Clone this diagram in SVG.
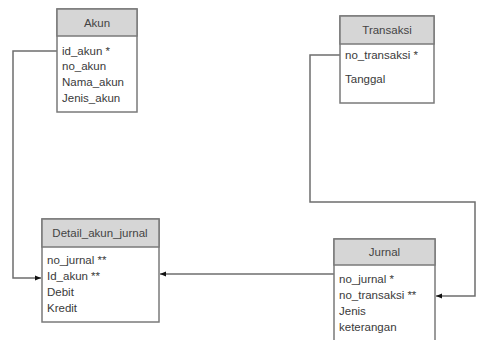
<svg xmlns="http://www.w3.org/2000/svg" width="477" height="340" viewBox="0 0 477 340">
<style>
.box{fill:#fff;stroke:#7a7a7a;stroke-width:1.5}
.hdr{fill:#d6d6d6;stroke:#7a7a7a;stroke-width:1.5}
.t{font-family:"Liberation Sans",Arial,sans-serif;font-size:11.5px;fill:#3a3a3a}
.h{font-family:"Liberation Sans",Arial,sans-serif;font-size:11.5px;fill:#444;text-anchor:middle}
.c{fill:none;stroke:#6e6e6e;stroke-width:1.5}
</style>
<defs>
<marker id="arr" viewBox="0 0 10 10" refX="10" refY="5" markerWidth="6" markerHeight="6" orient="auto" markerUnits="userSpaceOnUse">
<path d="M0,1 L10,5 L0,9 Z" fill="#111"/>
</marker>
</defs>
<rect width="477" height="340" fill="#fff"/>
<g id="connectors">
<polyline class="c" points="57,51 13,51 13,278 41,278" marker-end="url(#arr)"/>
<polyline class="c" points="334,274 160,274" marker-end="url(#arr)"/>
<polyline class="c" points="340,55 310,55 310,202 475,202 475,296 436,296" marker-end="url(#arr)"/>
</g>
<g id="akun">
<rect class="box" x="57" y="9" width="80" height="103"/>
<rect class="hdr" x="57" y="9" width="80" height="27"/>
<text class="h" x="97" y="27">Akun</text>
<text class="t" x="62" y="55">id_akun *</text>
<text class="t" x="62" y="70">no_akun</text>
<text class="t" x="62" y="86">Nama_akun</text>
<text class="t" x="62" y="102">Jenis_akun</text>
</g>
<g id="transaksi">
<rect class="box" x="340" y="16" width="94" height="87"/>
<rect class="hdr" x="340" y="16" width="94" height="28"/>
<text class="h" x="387" y="34">Transaksi</text>
<text class="t" x="345" y="59">no_transaksi *</text>
<text class="t" x="345" y="83">Tanggal</text>
</g>
<g id="detail_akun_jurnal">
<rect class="box" x="42" y="219" width="117" height="103"/>
<rect class="hdr" x="42" y="219" width="117" height="28"/>
<text class="h" x="100" y="237">Detail_akun_jurnal</text>
<text class="t" x="47" y="264">no_jurnal **</text>
<text class="t" x="47" y="280">Id_akun **</text>
<text class="t" x="47" y="296">Debit</text>
<text class="t" x="47" y="312">Kredit</text>
</g>
<g id="jurnal">
<rect class="box" x="334" y="239" width="101" height="110"/>
<rect class="hdr" x="334" y="239" width="101" height="26"/>
<text class="h" x="384.5" y="256">Jurnal</text>
<text class="t" x="339" y="283">no_jurnal *</text>
<text class="t" x="339" y="299">no_transaksi **</text>
<text class="t" x="339" y="315">Jenis</text>
<text class="t" x="339" y="331">keterangan</text>
</g>
</svg>
